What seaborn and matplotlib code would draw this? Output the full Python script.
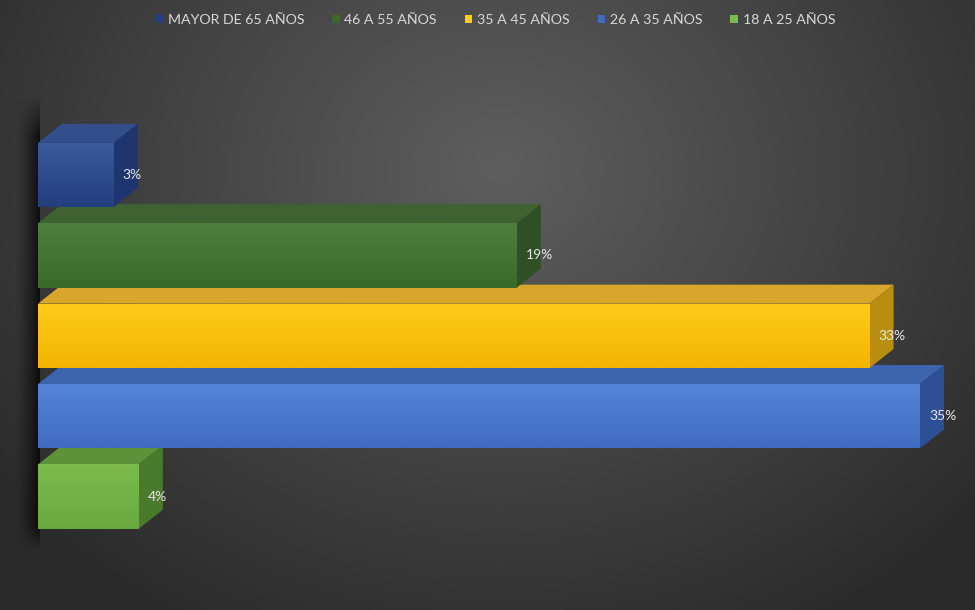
import numpy as np
import pandas as pd
import matplotlib
matplotlib.use("Agg")
import matplotlib.pyplot as plt
from matplotlib.patches import Polygon, Patch
import seaborn as sns

categories = ["MAYOR DE 65 AÑOS", "46 A 55 AÑOS", "35 A 45 AÑOS", "26 A 35 AÑOS", "18 A 25 AÑOS"]
values = [3, 19, 33, 35, 4]
labels = ["3%", "19%", "33%", "35%", "4%"]
front_top = ["#3a5a9c", "#4f7f3c", "#ffcc1a", "#5585d8", "#7cbc4c"]
front_bot = ["#243f7e", "#3a6a2a", "#f2b400", "#3f6cc0", "#68a83e"]
top_col = ["#324f8c", "#3f6330", "#d8a62a", "#3d64ae", "#5e923a"]
side_col = ["#1f3570", "#2f5024", "#b88d10", "#2c4f95", "#4a7a2c"]

sns.set_theme(style="white")
plt.rcParams['font.family'] = ['Lato', 'DejaVu Sans']

W, H = 975, 610
fig = plt.figure(figsize=(W / 100, H / 100), dpi=100)

# background radial gradient
bg = fig.add_axes([0, 0, 1, 1])
yy, xx = np.mgrid[0:H, 0:W]
r = np.sqrt(((xx - 500) / 620.0) ** 2 + ((yy - 170) / 520.0) ** 2)
r = np.clip(r, 0, 1)
lvl = 0.37 - 0.20 * r
img = np.dstack([lvl, lvl, lvl])
bg.imshow(img, extent=[0, W, H, 0], aspect="auto")
bg.set_xlim(0, W); bg.set_ylim(H, 0)
bg.axis("off")
# left wall shadow
sh = np.zeros((H, 40, 4))
xs = np.linspace(0, 1, 40)
alpha = np.clip((xs - 0.35) / 0.65, 0, 1) ** 1.5 * 0.75
ys = np.arange(H)
yfade = np.clip(np.minimum((ys - 95) / 40.0, (550 - ys) / 25.0), 0, 1)
sh[..., 3] = yfade[:, None] * alpha[None, :]
bg.imshow(sh, extent=[0, 40, H, 0], aspect="auto", zorder=2)

ax = fig.add_axes([0, 0, 1, 1], facecolor="none")
df = pd.DataFrame({"cat": categories, "val": values})
sns.barplot(data=df, y="cat", x="val", orient="h", ax=ax, width=0.8,
            palette=front_bot, hue="cat", legend=False, saturation=1, zorder=3,
            linewidth=0, edgecolor="none")

pxu = 25.2   # pixels per percent
x0 = 38
ax.set_xlim(-x0 / pxu, (W - x0) / pxu)
pyu = 80.4
ax.set_ylim((H - 175) / pyu, -175 / pyu)
ax.axis("off")

dx = 24 / pxu
dy = 19 / pyu

for i, p in enumerate(ax.patches):
    xL, yT = p.get_x(), p.get_y()
    w, h = p.get_width(), p.get_height()
    xR, yB = xL + w, yT + h
    top = Polygon([(xL, yT), (xR, yT), (xR + dx, yT - dy), (xL + dx, yT - dy)],
                  closed=True, facecolor=top_col[i], edgecolor="none", zorder=2.5)
    ax.add_patch(top)
    side = Polygon([(xR, yT), (xR + dx, yT - dy), (xR + dx, yB - dy), (xR, yB)],
                   closed=True, facecolor=side_col[i], edgecolor="none", zorder=2.6)
    ax.add_patch(side)
    grad = np.linspace(0, 1, 50)[:, None]
    c1 = np.array(matplotlib.colors.to_rgb(front_top[i]))
    c2 = np.array(matplotlib.colors.to_rgb(front_bot[i]))
    g = c1[None, None, :] * (1 - grad[..., None]) + c2[None, None, :] * grad[..., None]
    g = np.repeat(g, 2, axis=1)
    im = ax.imshow(g, extent=[xL, xR, yB, yT], aspect="auto", zorder=3.5)
    im.set_clip_path(p)
    ax.text(xR + 9 / pxu, yT + h / 2, labels[i], color="#e8e8e8", fontsize=10,
            va="center", ha="left", zorder=5)

ax.set_xlim(-x0 / pxu, (W - x0) / pxu)
ax.set_ylim((H - 175) / pyu, -175 / pyu)

handles = [Patch(facecolor=c, edgecolor="none") for c in [front_bot[0], front_bot[1], front_top[2], front_bot[3], front_top[4]]]
fig.legend(handles, categories, loc="upper center", bbox_to_anchor=(0.508, 0.998), ncol=5,
           frameon=False, fontsize=10.2, labelcolor="#d9d9d9", handlelength=0.55, handleheight=0.55,
           handletextpad=0.35, columnspacing=1.95)

fig.savefig("out.png", dpi=100)
